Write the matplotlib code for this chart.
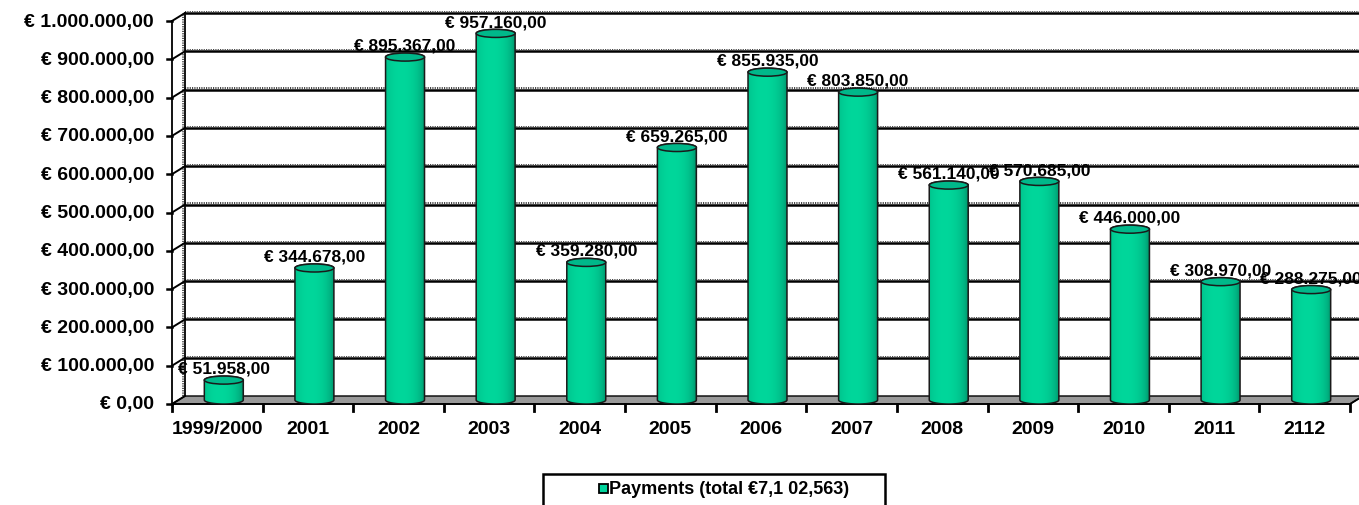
import matplotlib
matplotlib.use("Agg")
import matplotlib.pyplot as plt
import numpy as np
from matplotlib.patches import Polygon, Ellipse, Rectangle

categories = ["1999/2000", "2001", "2002", "2003", "2004", "2005", "2006",
              "2007", "2008", "2009", "2010", "2011", "2112"]
payments = [51958, 344678, 895367, 957160, 359280, 659265, 855935,
            803850, 561140, 570685, 446000, 308970, 288275]
value_labels = ["€ 51.958,00", "€ 344.678,00", "€ 895.367,00", "€ 957.160,00",
                "€ 359.280,00", "€ 659.265,00", "€ 855.935,00", "€ 803.850,00",
                "€ 561.140,00", "€ 570.685,00", "€ 446.000,00", "€ 308.970,00",
                "€ 288.275,00"]
yticks = [0, 100000, 200000, 300000, 400000, 500000, 600000, 700000, 800000,
          900000, 1000000]
ytick_labels = ["€ 0,00", "€ 100.000,00", "€ 200.000,00", "€ 300.000,00",
                "€ 400.000,00", "€ 500.000,00", "€ 600.000,00", "€ 700.000,00",
                "€ 800.000,00", "€ 900.000,00", "€ 1.000.000,00"]
legend_label = "Payments (total €7,1 02,563)"

plt.rcParams['font.family'] = ['Liberation Sans', 'DejaVu Sans']
plt.rcParams['font.weight'] = 'bold'

W, H = 1359, 506
fig = plt.figure(figsize=(W / 100, H / 100), dpi=100)
ax = fig.add_axes([172 / W, (H - 405) / H, 1178 / W, 383 / H])
n = len(categories)
ax.set_xlim(-0.5, n - 0.5)
ax.set_ylim(0, 1000000)
for s in ax.spines.values():
    s.set_visible(False)
ax.set_xticks([])
ax.set_yticks([])

dx = 13 / (1178 / n)          # depth offset in category units
dy = 8 * 1000000 / 383        # depth offset in value units
xl, xr = -0.5, n - 0.5

# floor
floor = Polygon([[xl, 0], [xr, 0], [xr + dx, dy], [xl + dx, dy]],
                closed=True, facecolor="#999999", edgecolor="black", lw=1.0,
                clip_on=False, zorder=1)
ax.add_patch(floor)

# back wall gridlines
for v in yticks[1:]:
    ax.plot([xl + dx, xr + dx + 0.2], [v + dy, v + dy], color="black", lw=1.8,
            clip_on=False, zorder=0.5, solid_capstyle="butt")
    ax.plot([xl + dx, xr + dx + 0.2], [v + dy + 3000, v + dy + 3000], color="#444444",
            lw=1.4, ls=(0, (0.6, 0.6)), clip_on=False, zorder=0.5)
# left wall
ax.plot([xl + dx, xl + dx], [dy, 1000000 + dy], color="black", lw=1.3,
        clip_on=False, zorder=0.6)
ax.plot([xl + dx - 0.025, xl + dx - 0.025], [dy, 1000000 + dy], color="#555555", lw=1.4,
        ls=(0, (0.6, 0.6)), clip_on=False, zorder=0.6)
ax.plot([xl, xl], [0, 1000000], color="black", lw=1.3, clip_on=False, zorder=0.6)
for v, lab in zip(yticks, ytick_labels):
    ax.plot([xl - 0.06, xl], [v, v], color="black", lw=1.8, clip_on=False)
    ax.plot([xl, xl + dx], [v, v + dy], color="black", lw=1.4, clip_on=False)
    ax.text(xl - 0.2, v, lab, ha="right", va="center", fontsize=14, fontweight="bold")

# x axis
ax.plot([xl, xr], [0, 0], color="black", lw=1.3, clip_on=False, zorder=3)
ax.plot([xr, xr + dx], [0, dy], color="black", lw=1.3, clip_on=False, zorder=3)
for i in range(n + 1):
    ax.plot([i - 0.5, i - 0.5], [0, -17000], color="black", lw=2.0, clip_on=False)
for i, c in enumerate(categories):
    ax.text(i, -64000, c, ha="center", va="center", fontsize=14, fontweight="bold")

# cylinders
bw = 0.43
eh = 21000
grad = np.linspace(0, 1, 256)
prof = np.clip(1 - ((grad - 0.4) / 0.6) ** 2, 0, 1)
c_dark = np.array([0, 130, 95]) / 255
c_light = np.array([0, 215, 155]) / 255
cols = c_dark[None, :] + (c_light - c_dark)[None, :] * prof[:, None] ** 0.45
img = np.tile(cols[None, :, :], (2, 1, 1))

for i, v in enumerate(payments):
    cx = i + dx / 2
    base = dy / 2
    top = v + dy / 2
    x0, x1 = cx - bw / 2, cx + bw / 2
    t = np.linspace(np.pi, 2 * np.pi, 40)
    bottom_pts = [(cx + bw / 2 * np.cos(a), base + eh / 2 * np.sin(a)) for a in t]
    tt = np.linspace(0, np.pi, 40)
    top_pts = [(cx + bw / 2 * np.cos(a), top + eh / 2 * np.sin(a)) for a in tt]
    outline = bottom_pts + top_pts
    patch = Polygon(outline, closed=True, facecolor="none", edgecolor="none",
                    clip_on=False, zorder=4)
    ax.add_patch(patch)
    im = ax.imshow(img, extent=[x0, x1, base - eh / 2, top + eh / 2], aspect="auto",
                   zorder=4, interpolation="bilinear")
    im.set_clip_path(patch)
    ax.add_patch(Polygon(outline, closed=True, facecolor="none", edgecolor="#1a1a1a",
                         lw=1.1, clip_on=False, zorder=5))
    ax.add_patch(Ellipse((cx, top), bw, eh, facecolor="#00b88a", edgecolor="#1a1a1a",
                         lw=1.1, clip_on=False, zorder=5))
    ax.text(cx, top + eh / 2 + 1000, value_labels[i], ha="center", va="bottom",
            fontsize=12.5, fontweight="bold", zorder=6)

ax.set_xlim(-0.5, n - 0.5)
ax.set_ylim(0, 1000000)

# legend
fig.add_artist(Rectangle((543 / W, (H - 517) / H), 342 / W, 42 / H,
                         transform=fig.transFigure, facecolor="white",
                         edgecolor="black", lw=1.8, clip_on=False))
fig.add_artist(Rectangle((599 / W, (H - 494) / H), 9 / W, 9 / H, transform=fig.transFigure,
                         facecolor="#00d49c", edgecolor="black", lw=1.3))
fig.text(609 / W, (H - 490) / H, legend_label, ha="left", va="center",
         fontsize=13, fontweight="bold")

fig.savefig("out.png", dpi=100)
